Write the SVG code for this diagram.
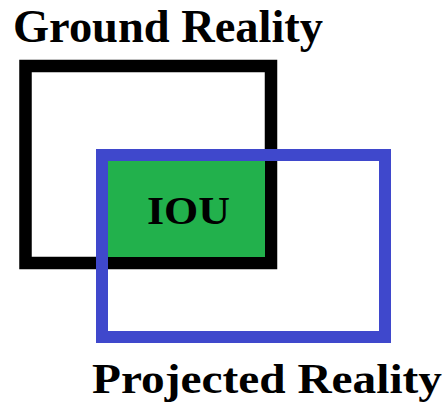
<svg xmlns="http://www.w3.org/2000/svg" width="445" height="406" viewBox="0 0 445 406">
<style>
.lbl{font-family:"Liberation Serif","Times New Roman",serif;font-weight:bold;fill:#000}
</style>
<rect width="445" height="406" fill="#fff"/>
<g id="ground">
<rect x="25.5" y="66" width="245.5" height="197" fill="none" stroke="#000" stroke-width="12.5"/>
</g>
<g id="iou">
<rect x="108" y="161" width="157" height="96" fill="#22b14c"/>
<text class="lbl" x="147" y="224" font-size="40" textLength="83" lengthAdjust="spacingAndGlyphs">IOU</text>
</g>
<g id="projected">
<rect x="102" y="155" width="283" height="182" fill="none" stroke="#3f48cc" stroke-width="12"/>
</g>
<g id="labels">
<text class="lbl" x="13" y="42" font-size="46" textLength="310" lengthAdjust="spacingAndGlyphs">Ground Reality</text>
<text class="lbl" x="92" y="393" font-size="43" textLength="350" lengthAdjust="spacingAndGlyphs">Projected Reality</text>
</g>
<g id="connectors"/>
</svg>
